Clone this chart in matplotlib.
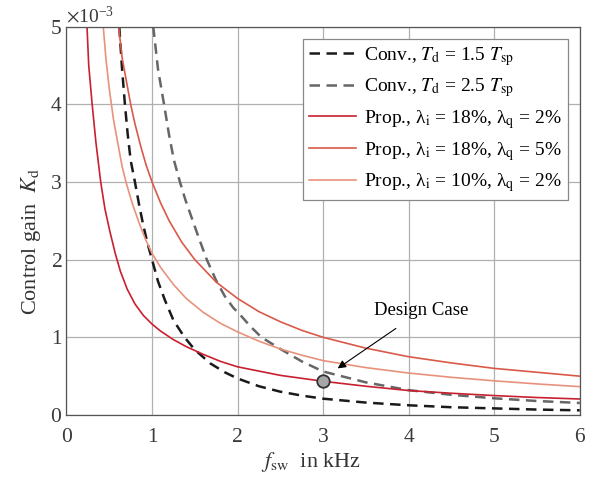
import matplotlib
matplotlib.use("Agg")
import matplotlib.pyplot as plt
from matplotlib.ticker import ScalarFormatter

plt.rcParams["font.family"] = "Liberation Serif"
plt.rcParams["mathtext.fontset"] = "stix"

scale = 1e-3

# y values in units of 1e-3
f_p1 = [0.24, 0.26, 0.30, 0.345, 0.40, 0.45, 0.51, 0.57, 0.63, 0.71, 0.80, 0.90, 1.0, 1.1, 1.25, 1.4,
        1.6, 1.8, 2.0, 2.5, 3.0, 3.5, 4.0, 4.5, 5.0, 5.5, 6.0]
k_p1 = [5.0, 4.5, 4.0, 3.5, 3.0, 2.65, 2.35, 2.08, 1.85, 1.62, 1.43, 1.28, 1.17, 1.08, 0.97, 0.88,
        0.78, 0.69, 0.62, 0.51, 0.434, 0.37, 0.315, 0.28, 0.25, 0.225, 0.206]

f_p2 = [0.61, 0.65, 0.70, 0.75, 0.80, 0.87, 0.93, 1.0, 1.1, 1.2, 1.35, 1.5, 1.75, 2.0, 2.25, 2.5, 2.75,
        3.0, 3.5, 4.0, 4.5, 5.0, 5.5, 6.0]
k_p2 = [5.0, 4.6, 4.3, 4.0, 3.75, 3.45, 3.22, 3.0, 2.73, 2.5, 2.22, 2.0, 1.71, 1.5, 1.33, 1.2, 1.09,
        1.0, 0.86, 0.75, 0.67, 0.6, 0.55, 0.5]

f_p3 = [0.43, 0.46, 0.50, 0.55, 0.60, 0.65, 0.70, 0.77, 0.85, 0.92, 1.0, 1.1, 1.25, 1.4, 1.6, 1.8, 2.0,
        2.25, 2.5, 2.75, 3.0, 3.5, 4.0, 4.5, 5.0, 5.5, 6.0]
k_p3 = [5.0, 4.6, 4.2, 3.8, 3.5, 3.2, 2.98, 2.72, 2.47, 2.27, 2.08, 1.9, 1.68, 1.5, 1.32, 1.18, 1.07,
        0.95, 0.85, 0.77, 0.70, 0.61, 0.54, 0.485, 0.44, 0.40, 0.365]

f_c1 = [0.617, 0.65, 0.683, 0.715, 0.75, 0.80, 0.85, 0.90, 0.95, 1.0, 1.07, 1.15, 1.25, 1.38, 1.5, 1.68,
        1.85, 2.0, 2.25, 2.5, 2.75, 3.0, 3.5, 4.0, 4.5, 5.0, 5.5, 6.0]
k_c1 = [5.0, 4.45, 4.0, 3.62, 3.28, 3.0, 2.7, 2.43, 2.2, 2.0, 1.72, 1.48, 1.22, 1.0, 0.84, 0.665,
        0.55, 0.47, 0.37, 0.30, 0.25, 0.21, 0.16, 0.125, 0.1, 0.085, 0.07, 0.06]

f_c2 = [1.014, 1.07, 1.14, 1.20, 1.256, 1.326, 1.39, 1.46, 1.55, 1.64, 1.75, 1.85, 1.95, 2.03, 2.15,
        2.28, 2.5, 2.75, 3.0, 3.5, 4.0, 4.5, 5.0, 5.5, 6.0]
k_c2 = [5.0, 4.45, 4.0, 3.6, 3.28, 3.0, 2.77, 2.55, 2.27, 2.0, 1.73, 1.53, 1.38, 1.29, 1.14,
        1.0, 0.85, 0.69, 0.56, 0.42, 0.32, 0.26, 0.215, 0.18, 0.155]

design_f = 3.0
design_k = 0.434

fig = plt.figure(figsize=(6.06, 4.82), dpi=100)
ax = fig.add_axes([0.1097, 0.139, 0.847, 0.806])

ax.plot(f_c1, [k * scale for k in k_c1], color="#1a1a1a", lw=1.8, dashes=(4.2, 2.6),
        label=r"Conv., $T_\mathrm{d}$ = 1.5 $T_\mathrm{sp}$")
ax.plot(f_c2, [k * scale for k in k_c2], color="#666666", lw=1.8, dashes=(4.2, 2.6),
        label=r"Conv., $T_\mathrm{d}$ = 2.5 $T_\mathrm{sp}$")
ax.plot(f_p1, [k * scale for k in k_p1], color="#c8202f", lw=1.2,
        label=r"Prop., λ$_\mathrm{i}$ = 18%, λ$_\mathrm{q}$ = 2%")
ax.plot(f_p2, [k * scale for k in k_p2], color="#d95a48", lw=1.2,
        label=r"Prop., λ$_\mathrm{i}$ = 18%, λ$_\mathrm{q}$ = 5%")
ax.plot(f_p3, [k * scale for k in k_p3], color="#e8927c", lw=1.2,
        label=r"Prop., λ$_\mathrm{i}$ = 10%, λ$_\mathrm{q}$ = 2%")

ax.plot(design_f, design_k * scale, "o", ms=9, mfc="#a6a6a6", mec="#333333", mew=1.3, zorder=5)
ax.annotate("Design Case", xy=(3.17, 0.60 * scale), xytext=(4.15, 1.34 * scale),
            ha="center", va="center", fontsize=13.5,
            arrowprops=dict(arrowstyle="-|>", color="black", lw=0.8, mutation_scale=12,
                            shrinkA=8, shrinkB=0))

ax.set_xlim(0, 6)
ax.set_ylim(0, 5e-3)
ax.set_xticks(range(7))
ax.set_yticks([i * scale for i in range(6)])
fmt = ScalarFormatter(useMathText=True)
fmt.set_powerlimits((-2, 2))
ax.yaxis.set_major_formatter(fmt)
ax.yaxis.get_offset_text().set_fontsize(14)
ax.yaxis.get_offset_text().set_color("#444444")

ax.grid(True, color="#b0b0b0", lw=0.9)
for s in ax.spines.values():
    s.set_color("#555555")
    s.set_linewidth(0.9)
ax.tick_params(direction="in", length=0, labelsize=15.5, labelcolor="#3a3a3a")
ax.tick_params(axis="x", pad=9)
ax.tick_params(axis="y", pad=3)

ax.set_xlabel(r"$f_\mathrm{sw}$  in kHz", fontsize=16, color="#333333")
ax.set_ylabel(r"Control gain  $K_\mathrm{d}$", fontsize=16, color="#333333")
ax.xaxis.set_label_coords(0.476, -0.09)
ax.yaxis.set_label_coords(-0.045, 0.446)

leg = ax.legend(loc="upper right", fontsize=14, fancybox=False, framealpha=1,
                edgecolor="#888888", borderpad=0.3, labelspacing=0.45, borderaxespad=0,
                handlelength=2.4, handletextpad=0.45, bbox_to_anchor=(0.977, 0.968))
leg.get_frame().set_linewidth(0.9)

fig.savefig("out.png", dpi=100)
